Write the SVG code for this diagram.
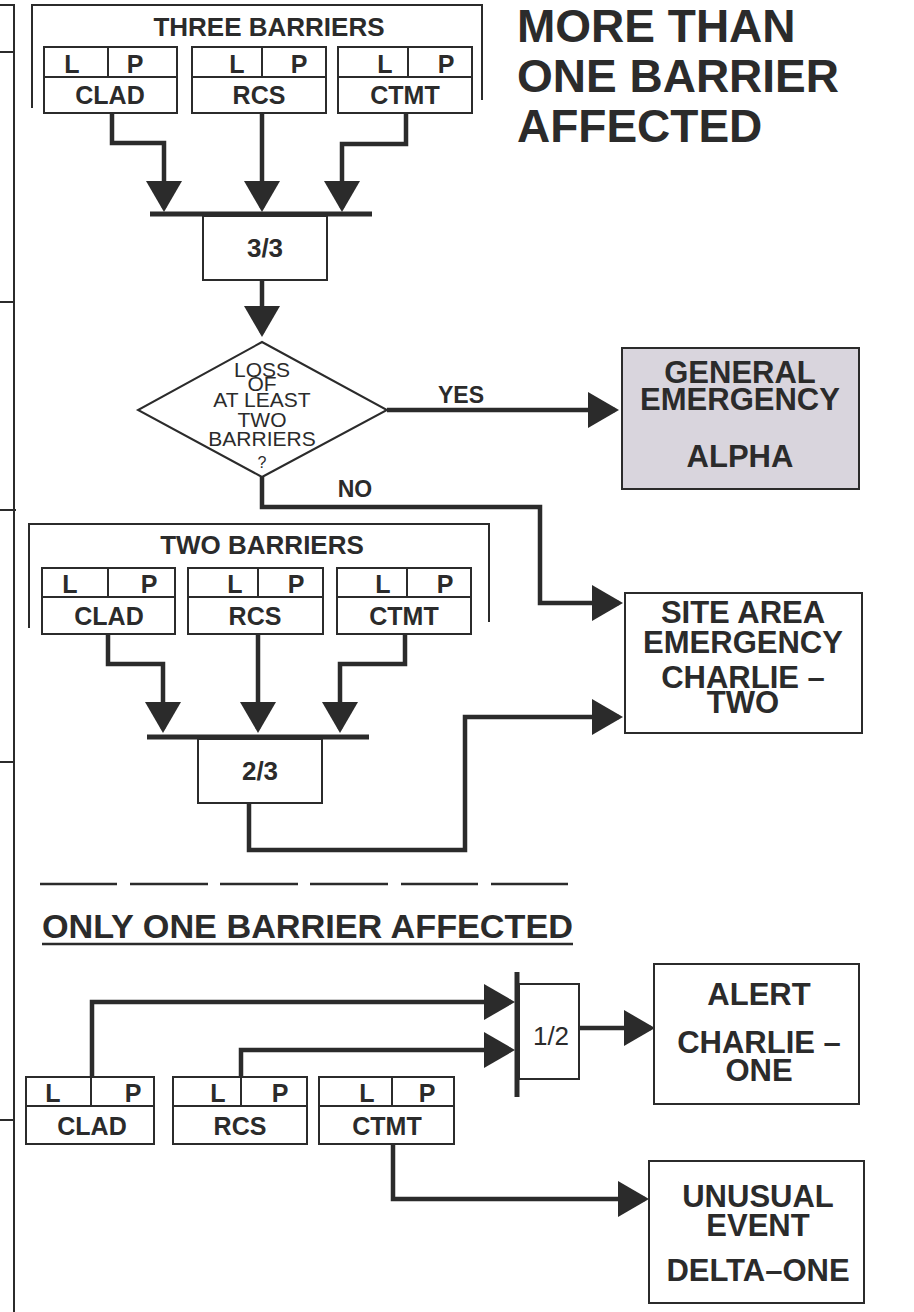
<svg xmlns="http://www.w3.org/2000/svg" width="914" height="1312" viewBox="0 0 914 1312">
<defs>
<style>
.box{fill:#fff;stroke:#2b2b2b;stroke-width:2}
.ge{fill:#d9d5dd;stroke:#2b2b2b;stroke-width:2}
.thin{fill:none;stroke:#2b2b2b;stroke-width:2}
.conn{fill:none;stroke:#2b2b2b;stroke-width:4.5;stroke-linejoin:miter;marker-end:url(#arr)}
.bar{stroke:#2b2b2b;stroke-width:5}
.dash{stroke:#2b2b2b;stroke-width:2.5}
text{font-family:"Liberation Sans",Arial,Helvetica,sans-serif;font-weight:bold;fill:#2b2b2b;text-anchor:middle}
.lp{font-size:25px}
.nm{font-size:25px}
.hd{font-size:26px}
.big{font-size:31px}
.dq{font-size:21px;font-weight:normal}
.title{font-size:46px;text-anchor:start}
</style>
<marker id="arr" markerUnits="userSpaceOnUse" viewBox="0 0 34 38" markerWidth="34" markerHeight="38" refX="27" refY="18" orient="auto">
<path d="M0,0 L31,18 L0,36 Z" fill="#2b2b2b"/>
</marker>
</defs>
<rect width="914" height="1312" fill="#fff"/>

<g id="margin">
<path class="thin" d="M0,5 H14 V1312"/>
<path class="thin" d="M0,52 H14 M0,302 H14 M0,510 H16 M0,762 H14 M0,1120 H14"/>
</g>

<g id="title">
<text class="title" x="517" y="42">MORE THAN</text>
<text class="title" x="517" y="92">ONE BARRIER</text>
<text class="title" x="517" y="142">AFFECTED</text>
</g>

<g id="three-barriers">
<path class="thin" d="M32,108 V5 H482 V100"/>
<text class="hd" x="269" y="36">THREE BARRIERS</text>
</g>
<g id="clad3">
<rect class="box" x="44" y="47" width="133" height="66"/>
<path class="thin" d="M44,77 H177 M108,47 V77"/>
<text class="lp" x="72" y="73">L</text><text class="lp" x="135" y="73">P</text>
<text class="nm" x="110" y="104">CLAD</text>
</g>
<g id="rcs3">
<rect class="box" x="192" y="47" width="134" height="66"/>
<path class="thin" d="M192,77 H326 M262,47 V77"/>
<text class="lp" x="237" y="73">L</text><text class="lp" x="299" y="73">P</text>
<text class="nm" x="259" y="104">RCS</text>
</g>
<g id="ctmt3">
<rect class="box" x="338" y="47" width="134" height="66"/>
<path class="thin" d="M338,77 H472 M408,47 V77"/>
<text class="lp" x="385" y="73">L</text><text class="lp" x="446" y="73">P</text>
<text class="nm" x="405" y="104">CTMT</text>
</g>
<g id="gate33">
<line class="bar" x1="150" y1="214" x2="372" y2="214"/>
<rect class="box" x="203" y="216" width="124" height="64"/>
<text class="hd" x="265" y="257">3/3</text>
</g>
<g id="decision">
<polygon class="box" points="262,342 387,410 262,477 138,410"/>
<text class="dq" x="262" y="377">LOSS</text>
<text class="dq" x="262" y="391">OF</text>
<text class="dq" x="262" y="407">AT LEAST</text>
<text class="dq" x="262" y="427">TWO</text>
<text class="dq" x="262" y="446">BARRIERS</text>
<text class="dq" x="262" y="468" style="font-size:16px">?</text>
</g>
<g id="general-emergency">
<rect class="ge" x="622" y="348" width="237" height="141"/>
<text class="big" x="740" y="383">GENERAL</text>
<text class="big" x="740" y="410">EMERGENCY</text>
<text class="big" x="740" y="467">ALPHA</text>
</g>
<g id="site-area-emergency">
<rect class="box" x="625" y="593" width="237" height="140"/>
<text class="big" x="743" y="623">SITE AREA</text>
<text class="big" x="743" y="653">EMERGENCY</text>
<text class="big" x="743" y="688">CHARLIE –</text>
<text class="big" x="743" y="713">TWO</text>
</g>

<g id="two-barriers">
<path class="thin" d="M29,628 V524 H489 V622"/>
<text class="hd" x="262" y="554">TWO BARRIERS</text>
</g>
<g id="clad2">
<rect class="box" x="42" y="568" width="133" height="66"/>
<path class="thin" d="M42,597 H175 M108,568 V597"/>
<text class="lp" x="70" y="593">L</text><text class="lp" x="149" y="593">P</text>
<text class="nm" x="109" y="625">CLAD</text>
</g>
<g id="rcs2">
<rect class="box" x="188" y="568" width="135" height="66"/>
<path class="thin" d="M188,597 H323 M258,568 V597"/>
<text class="lp" x="235" y="593">L</text><text class="lp" x="296" y="593">P</text>
<text class="nm" x="255" y="625">RCS</text>
</g>
<g id="ctmt2">
<rect class="box" x="337" y="568" width="134" height="66"/>
<path class="thin" d="M337,597 H471 M407,568 V597"/>
<text class="lp" x="383" y="593">L</text><text class="lp" x="445" y="593">P</text>
<text class="nm" x="404" y="625">CTMT</text>
</g>
<g id="gate23">
<line class="bar" x1="147" y1="737" x2="369" y2="737"/>
<rect class="box" x="198" y="739" width="124" height="64"/>
<text class="hd" x="260" y="780">2/3</text>
</g>

<g id="separator">
<path class="dash" d="M40,884 H117 M130,884 H208 M220,884 H298 M310,884 H388 M401,884 H478 M491,884 H568"/>
<text x="42" y="938" style="font-size:33px;text-anchor:start" textLength="531" lengthAdjust="spacingAndGlyphs">ONLY ONE BARRIER AFFECTED</text>
<line class="dash" x1="42" y1="944" x2="573" y2="944"/>
</g>

<g id="clad1">
<rect class="box" x="26" y="1077" width="128" height="67"/>
<path class="thin" d="M26,1106 H154 M91,1077 V1106"/>
<text class="lp" x="53" y="1102">L</text><text class="lp" x="133" y="1102">P</text>
<text class="nm" x="92" y="1135">CLAD</text>
</g>
<g id="rcs1">
<rect class="box" x="173" y="1077" width="134" height="67"/>
<path class="thin" d="M173,1106 H307 M241,1077 V1106"/>
<text class="lp" x="218" y="1102">L</text><text class="lp" x="280" y="1102">P</text>
<text class="nm" x="240" y="1135">RCS</text>
</g>
<g id="ctmt1">
<rect class="box" x="319" y="1077" width="135" height="67"/>
<path class="thin" d="M319,1106 H454 M392,1077 V1106"/>
<text class="lp" x="367" y="1102">L</text><text class="lp" x="427" y="1102">P</text>
<text class="nm" x="387" y="1135">CTMT</text>
</g>
<g id="gate12">
<line class="bar" x1="517" y1="972" x2="517" y2="1097"/>
<rect class="box" x="519" y="984" width="60" height="95"/>
<text class="hd" x="551" y="1045" style="font-weight:normal">1/2</text>
</g>
<g id="alert">
<rect class="box" x="654" y="964" width="205" height="140"/>
<text class="big" x="759" y="1005">ALERT</text>
<text class="big" x="759" y="1053">CHARLIE –</text>
<text class="big" x="759" y="1081">ONE</text>
</g>
<g id="unusual-event">
<rect class="box" x="649" y="1161" width="215" height="142"/>
<text class="big" x="758" y="1207">UNUSUAL</text>
<text class="big" x="758" y="1236">EVENT</text>
<text class="big" x="758" y="1281">DELTA–ONE</text>
</g>

<g id="connectors">
<path class="conn" d="M112,113 V143 H164 V208"/>
<path class="conn" d="M262,113 V208"/>
<path class="conn" d="M406,113 V144 H342 V208"/>
<path class="conn" d="M262,280 V333"/>
<path class="conn" d="M387,410 H615"/>
<text x="461" y="403" style="font-size:23px">YES</text>
<path class="conn" d="M262,477 V507 H540 V603 H619"/>
<text x="355" y="497" style="font-size:23px">NO</text>
<path class="conn" d="M108,634 V664 H163 V729"/>
<path class="conn" d="M258,634 V729"/>
<path class="conn" d="M405,634 V664 H340 V729"/>
<path class="conn" d="M249,803 V850 H465 V717 H619"/>
<path class="conn" d="M92,1077 V1002 H511"/>
<path class="conn" d="M241,1077 V1050 H511"/>
<path class="conn" d="M579,1028 H651"/>
<path class="conn" d="M393,1144 V1199 H645"/>
</g>
</svg>
